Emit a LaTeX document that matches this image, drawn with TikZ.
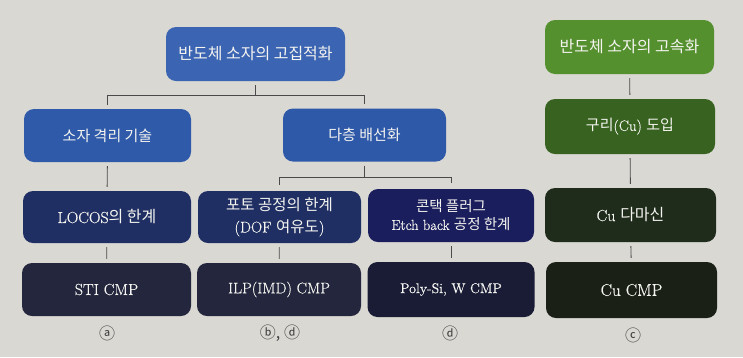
\documentclass[tikz,border=0pt]{standalone}
\usepackage{fontspec}
\setmainfont{Latin Modern Roman}[FakeBold=0.5]
\newfontfamily\kor{Noto Sans CJK KR}
\newcommand{\K}[1]{{\kor #1}}
\definecolor{paper}{HTML}{D9D8D3}
\definecolor{cTop}{HTML}{3B64B2}
\definecolor{cIso}{HTML}{2F5AA9}
\definecolor{cMul}{HTML}{2E58A8}
\definecolor{cRow3}{HTML}{202F63}
\definecolor{cCon}{HTML}{1B1E5C}
\definecolor{cRow4}{HTML}{23263C}
\definecolor{cPoly}{HTML}{1A1C36}
\definecolor{gTop}{HTML}{55902F}
\definecolor{gCu}{HTML}{37621F}
\definecolor{gDam}{HTML}{1F2B1B}
\definecolor{gCmp}{HTML}{1B2017}
\definecolor{txt}{HTML}{F4F4F0}
\definecolor{lineC}{HTML}{4A4A4A}
\begin{document}
\begin{tikzpicture}[x=1pt,y=-1pt,
  bx/.style={rounded corners=10pt, text=txt, align=center, inner sep=0pt,
             font=\fontsize{15}{21}\selectfont},
  conn/.style={draw=lineC, line width=0.9pt},
  sh/.style={shorten <=4pt, shorten >=4pt},
  lab/.style={inner sep=0pt, text=black!75, font=\kor\fontsize{16}{18}\selectfont}]
\fill[paper] (0,0) rectangle (743,357);
\useasboundingbox (0,0) rectangle (743,357);
% row 1
\node[bx, fill=cTop, minimum width=179pt, minimum height=54pt, font=\fontsize{16}{20}\selectfont] (top) at (255.5,54) {\K{반도체 소자의 고집적화}};
\node[bx, fill=gTop, minimum width=169pt, minimum height=54pt, font=\fontsize{16}{20}\selectfont] (gtop) at (629.5,47) {\K{반도체 소자의 고속화}};
% row 2
\node[bx, fill=cIso, minimum width=167pt, minimum height=53pt] (iso) at (107.5,135.5) {\K{소자 격리 기술}};
\node[bx, fill=cMul, minimum width=163pt, minimum height=53pt] (mul) at (364.5,135) {\K{다층 배선화}};
\node[bx, fill=gCu, minimum width=170pt, minimum height=55pt] (cu) at (630,126.5) {\K{구리}(Cu) \K{도입}};
% row 3
\node[bx, fill=cRow3, minimum width=168pt, minimum height=52pt, font=\fontsize{16}{20}\selectfont] (locos) at (107,217) {LOCOS\K{의 한계}};
\node[bx, fill=cRow3, minimum width=163pt, minimum height=52pt, font=\fontsize{15.5}{22}\selectfont] (photo) at (279.5,217) {\K{포토 공정의 한계}\\(DOF \K{여유도})};
\node[bx, fill=cCon, minimum width=166pt, minimum height=53pt, font=\fontsize{14.5}{18}\selectfont] (contact) at (451,215.5) {\K{콘택 플러그}\\Etch back \K{공정 한계}};
\node[bx, fill=gDam, minimum width=171pt, minimum height=54pt, font=\fontsize{16}{20}\selectfont] (dam) at (630.5,215) {Cu \K{다마신}};
% row 4
\node[bx, fill=cRow4, minimum width=169pt, minimum height=53pt, font=\fontsize{16}{20}\selectfont] (sti) at (106.5,289.5) {STI CMP};
\node[bx, fill=cRow4, minimum width=164pt, minimum height=53pt, font=\fontsize{15.5}{20}\selectfont] (ilp) at (279,289.5) {ILP(IMD) CMP};
\node[bx, fill=cPoly, minimum width=167pt, minimum height=55pt, font=\fontsize{14}{18}\selectfont] (poly) at (451,289.5) {Poly-Si, W CMP};
\node[bx, fill=gCmp, minimum width=171pt, minimum height=56pt, font=\fontsize{17}{20}\selectfont] (cmp) at (631.5,290) {Cu CMP};
% labels
\node[lab] (la) at (107,333) {ⓐ};
\node[lab] (lb) at (280,333) {ⓑ, ⓓ};
\node[lab] (ld) at (450,333) {ⓓ};
\node[lab] (lc) at (633,335) {ⓒ};
% connectors
\coordinate (busA) at (255.5,95);
\coordinate (busB) at (364.5,177);
\draw[conn, shorten <=4pt] (top) -- (busA);
\draw[conn, shorten >=4pt] (busA) -| (iso);
\draw[conn, shorten >=4pt] (busA) -| (mul);
\draw[conn, shorten <=4pt] (mul) -- (busB);
\draw[conn, shorten >=6pt] (busB) -| (photo);
\draw[conn, shorten >=6pt] (busB) -| (contact);
\draw[conn, sh] (iso) -- (locos);
\draw[conn, sh] (locos) -- (sti);
\draw[conn, sh] (photo) -- (ilp);
\draw[conn, sh] (contact) -- (poly);
\draw[conn, sh] (gtop) -- (cu);
\draw[conn, sh] (cu) -- (dam);
\draw[conn, sh] (dam) -- (cmp);
\end{tikzpicture}
\end{document}
